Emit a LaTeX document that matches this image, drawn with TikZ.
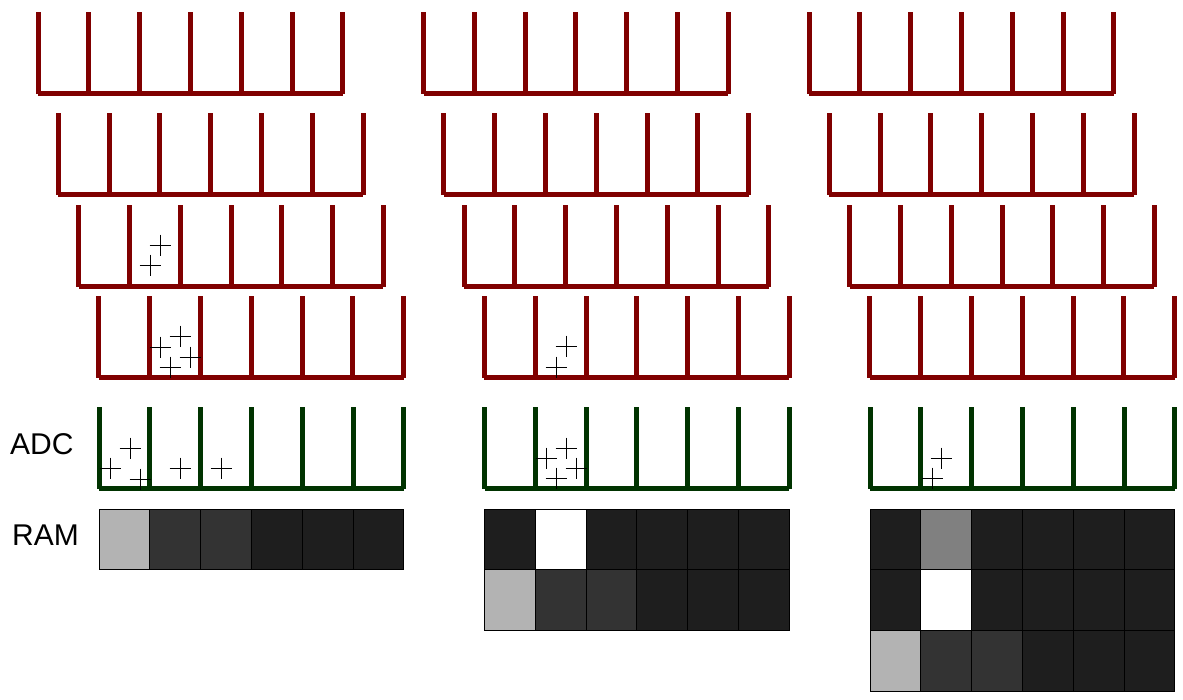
\documentclass[tikz,border=0pt]{standalone}
\usepackage{fontspec}
\setmainfont{Liberation Sans}
\usepackage{tikz}

\definecolor{binred}{RGB}{128,0,0}
\definecolor{bingreen}{RGB}{0,51,0}
\definecolor{ramlight}{RGB}{179,179,179}
\definecolor{rammid}{RGB}{128,128,128}
\definecolor{ramdark}{RGB}{51,51,51}
\definecolor{ramfull}{RGB}{30,30,30}

% one row of bins: left x, top y, colour
\newcommand{\histrow}[3]{%
  \foreach \i in {0,...,6}{
    \draw[bin,#3] (#1+\i*50.8,#2) -- (#1+\i*50.8,#2+81.5);
  }
  \draw[bin,#3] (#1,#2+81.5) -- (#1+304.8,#2+81.5);
}
% one row of memory cells: left x, top y, colours
\newcommand{\ramrow}[3]{%
  \foreach \g [count=\i from 0] in {#3}{
    \draw[cell,fill=\g] (#1+\i*50.8,#2) rectangle ++(50.8,60.7);
  }
}
% one hit
\newcommand{\hit}[2]{%
  \draw[hit] (#1,#2) +(-10.5,0) -- +(10.5,0) +(0,-10.5) -- +(0,10.5);
}

\begin{document}
\begin{tikzpicture}[
  x=1pt, y=-1pt,
  bin/.style={line width=5pt},
  hit/.style={line width=1pt,black},
  cell/.style={draw=black,line width=1pt},
  lbl/.style={inner sep=0pt,anchor=base west,font=\fontsize{30}{36}\selectfont}
]
\useasboundingbox (0,0) rectangle (1183,699);

% shift register of bins
\foreach \c in {0,1,2}{
  \foreach \r/\y in {0/12,1/113,2/205,3/296}{
    \histrow{\c*385.5+\r*20.3+38}{\y}{binred}
  }
  \histrow{\c*385.5+99}{407}{bingreen}
}

% hits
\hit{160}{245} \hit{150}{265}
\hit{180}{336} \hit{160}{347} \hit{190}{357} \hit{170}{367}
\hit{130}{448} \hit{110}{468} \hit{140}{479} \hit{180}{468} \hit{221}{468}
\hit{566}{346} \hit{556}{367}
\hit{566}{448} \hit{546}{458} \hit{576}{468} \hit{556}{478}
\hit{941}{458} \hit{932}{478}

% memory
\ramrow{99}{509}{ramlight,ramdark,ramdark,ramfull,ramfull,ramfull}
\ramrow{484.5}{509}{ramfull,white,ramfull,ramfull,ramfull,ramfull}
\ramrow{484.5}{569.7}{ramlight,ramdark,ramdark,ramfull,ramfull,ramfull}
\ramrow{870}{509}{ramfull,rammid,ramfull,ramfull,ramfull,ramfull}
\ramrow{870}{569.7}{ramfull,white,ramfull,ramfull,ramfull,ramfull}
\ramrow{870}{630.4}{ramlight,ramdark,ramdark,ramfull,ramfull,ramfull}

\node[lbl] (adc) at (10,454) {ADC};
\node[lbl] (ram) at (12,545) {RAM};
\end{tikzpicture}
\end{document}
